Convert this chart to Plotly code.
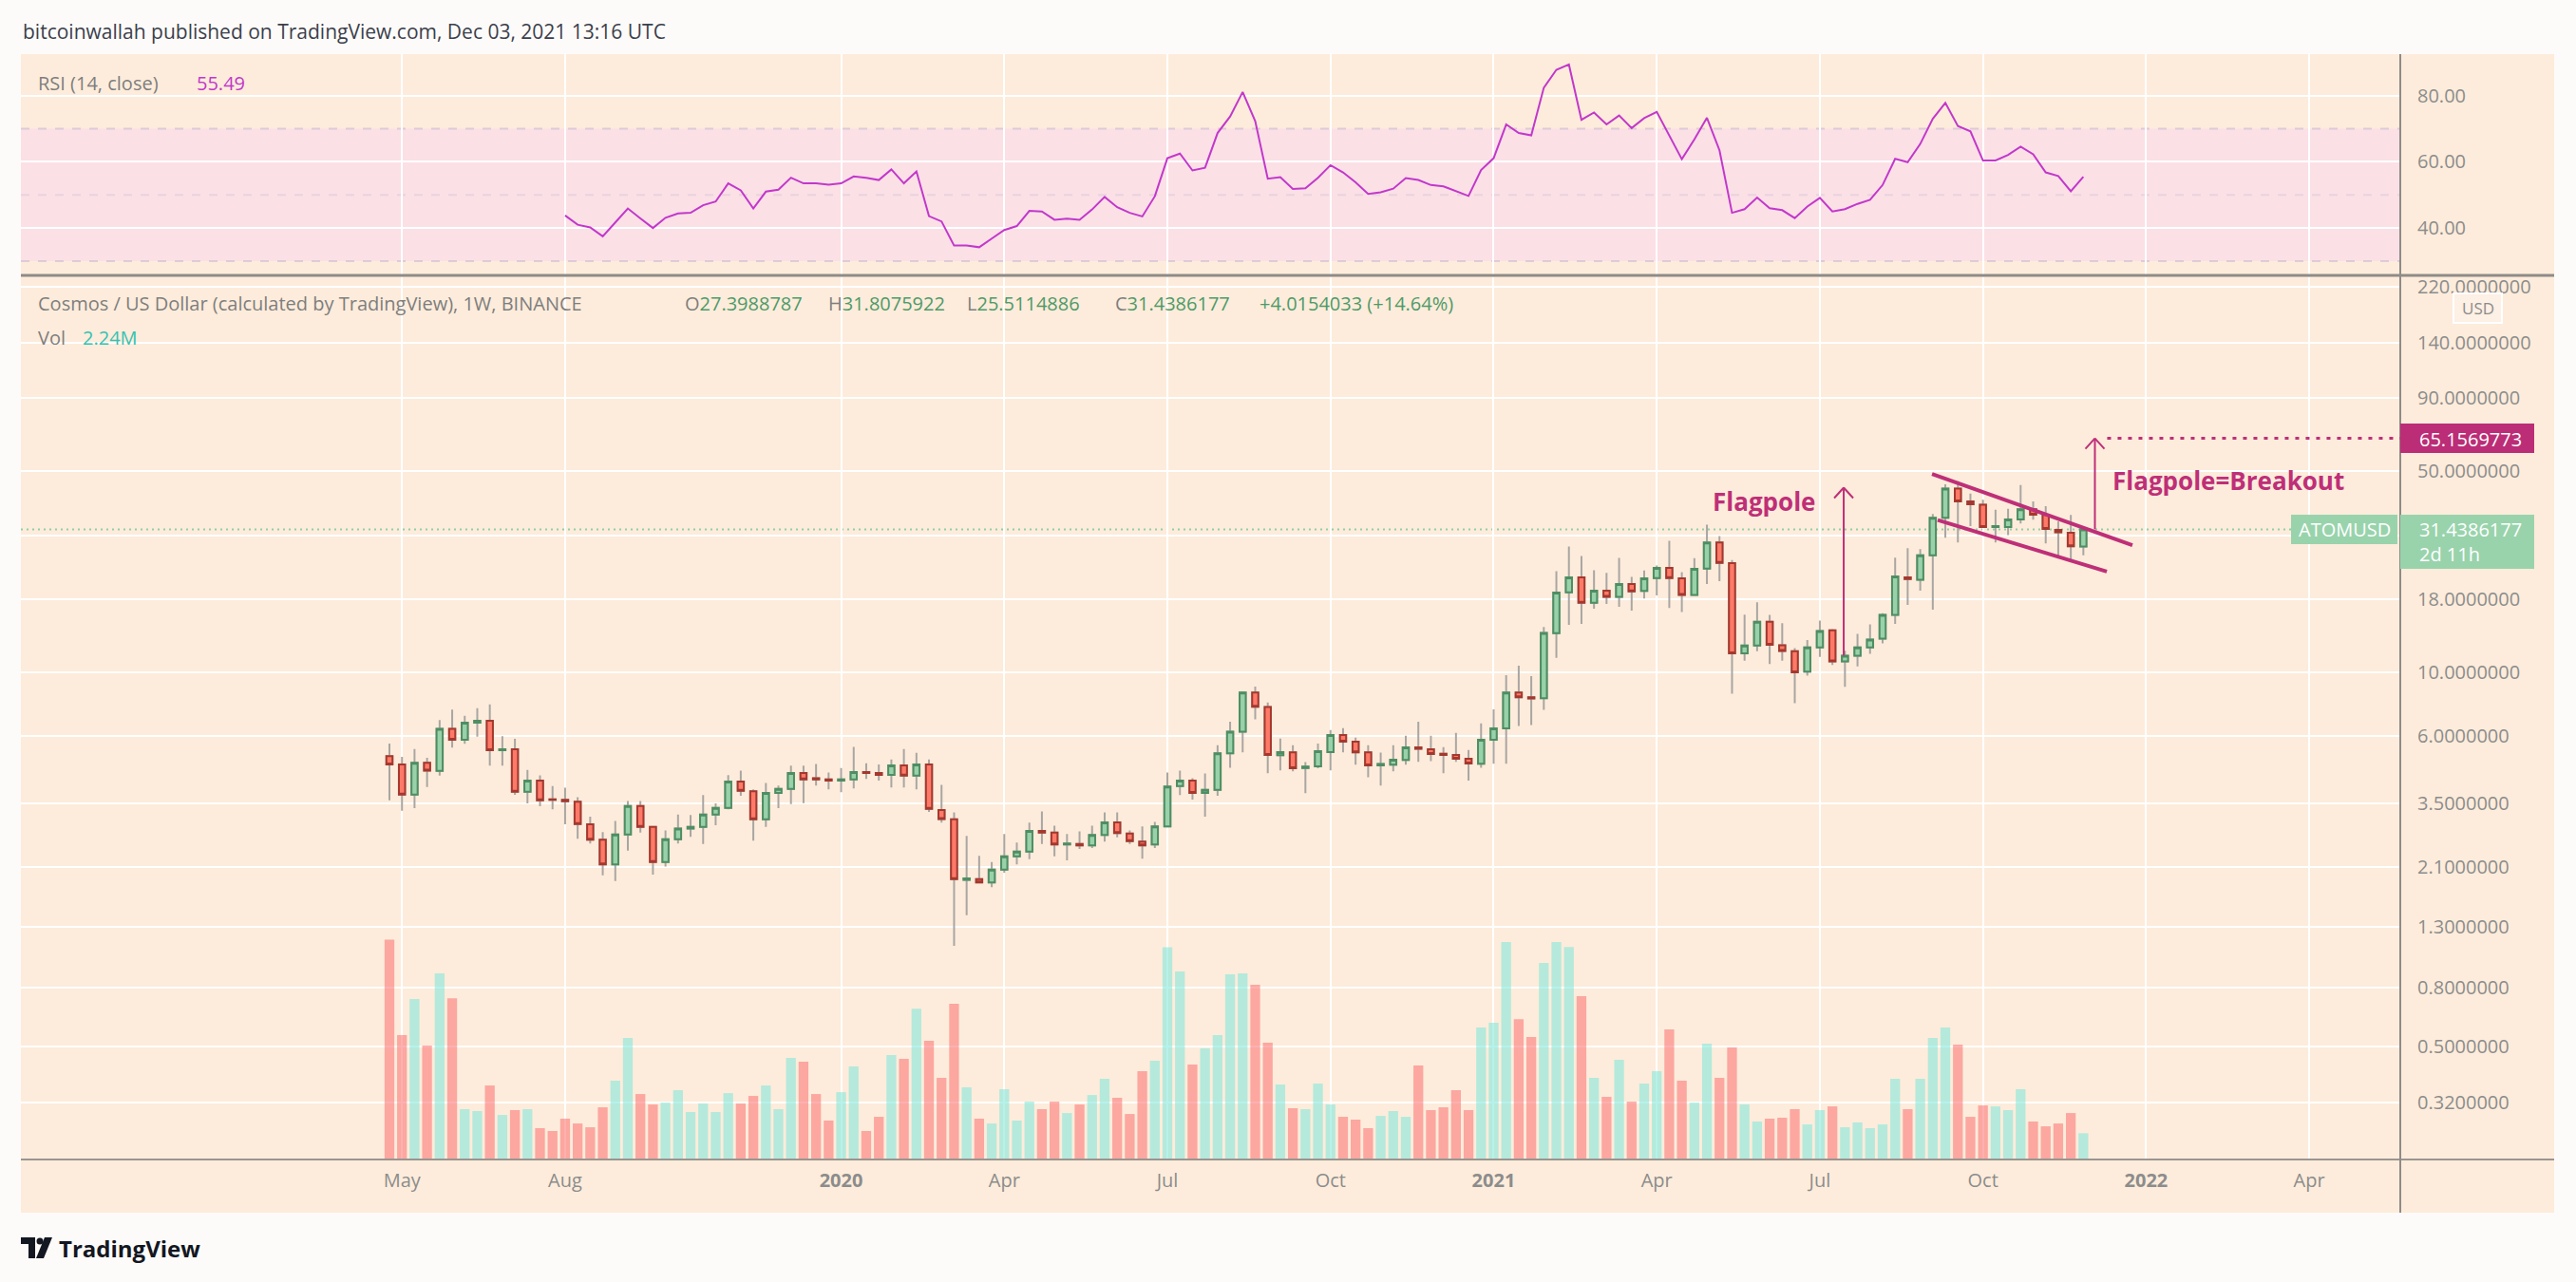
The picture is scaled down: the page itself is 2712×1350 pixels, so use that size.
import math
import pandas as pd
import plotly.graph_objects as go

# ---------------- data (ATOMUSD weekly, Binance) ----------------
bar_dates = pd.date_range("2019-04-29", periods=136, freq="7D")

opens = [5.11, 4.78, 3.76, 4.85, 4.54, 6.36, 5.83, 6.68, 6.78, 5.36,
         5.40, 3.84, 4.20, 3.62, 3.60, 3.55, 2.96, 2.62, 2.15, 2.73,
         3.43, 2.90, 2.19, 2.63, 2.86, 2.90, 3.20, 3.38, 4.17, 3.86,
         3.08, 3.81, 3.93, 4.47, 4.28, 4.24, 4.20, 4.24, 4.50, 4.47,
         4.40, 4.75, 4.37, 4.78, 3.32, 3.08, 1.90, 1.91, 1.86, 2.06,
         2.29, 2.38, 2.81, 2.77, 2.52, 2.53, 2.50, 2.72, 3.01, 2.75,
         2.58, 2.52, 2.91, 4.02, 4.20, 3.81, 3.90, 5.23, 6.22, 8.51,
         7.57, 5.15, 5.27, 4.65, 4.71, 5.28, 6.05, 5.74, 5.27, 4.75,
         4.77, 4.96, 5.48, 5.40, 5.21, 5.16, 5.01, 4.81, 5.83, 6.38,
         8.51, 8.19, 8.13, 13.68, 18.99, 21.39, 17.47, 19.23, 18.29, 20.28,
         19.18, 21.28, 23.07, 21.22, 18.57, 22.96, 28.30, 23.96, 11.64, 12.39,
         14.98, 12.43, 11.84, 10.05, 12.21, 13.99, 10.92, 11.43, 12.21, 13.10,
         15.83, 21.39, 21.01, 25.52, 34.47, 43.59, 39.30, 38.30, 32.03, 32.03,
         34.03, 36.90, 35.30, 31.31, 30.60, 27.3988787]

highs = [5.65, 5.08, 5.41, 5.04, 6.83, 7.42, 7.06, 7.50, 7.73, 6.00,
         5.87, 4.58, 4.38, 4.02, 3.97, 3.68, 3.15, 2.78, 3.04, 3.57,
         3.57, 2.92, 2.82, 3.20, 3.19, 3.74, 3.50, 4.39, 4.55, 3.92,
         4.12, 4.04, 4.74, 4.74, 4.80, 4.48, 4.65, 5.50, 4.83, 4.78,
         4.98, 5.41, 5.25, 4.98, 4.06, 3.26, 2.70, 2.30, 2.19, 2.74,
         2.56, 3.00, 3.28, 2.93, 2.74, 2.80, 2.93, 3.26, 3.26, 2.82,
         2.91, 3.02, 4.48, 4.55, 4.28, 4.45, 5.58, 6.74, 8.59, 8.93,
         7.85, 5.88, 5.58, 4.87, 5.65, 6.30, 6.40, 5.93, 5.58, 5.26,
         5.58, 6.02, 6.74, 6.02, 5.49, 6.16, 5.37, 6.64, 7.44, 9.78,
         10.55, 9.70, 14.39, 22.49, 27.39, 25.39, 22.66, 22.16, 25.01, 21.49,
         22.61, 23.54, 28.66, 22.32, 24.95, 32.60, 29.77, 24.57, 15.87, 17.52,
         15.83, 14.83, 12.15, 12.94, 15.13, 14.13, 11.90, 13.61, 14.68, 16.04,
         25.07, 27.04, 26.84, 35.53, 45.05, 46.20, 41.87, 39.80, 36.80, 37.08,
         44.82, 39.30, 37.84, 33.52, 35.30, 31.8075922]

lows = [3.59, 3.30, 3.37, 3.99, 4.37, 5.47, 5.64, 5.97, 4.74, 4.74,
        3.75, 3.50, 3.42, 3.34, 2.96, 2.64, 2.54, 1.97, 1.88, 2.40,
        2.77, 1.98, 2.11, 2.54, 2.68, 2.53, 2.94, 3.34, 3.72, 2.60,
        2.90, 3.37, 3.48, 3.51, 4.04, 3.92, 3.83, 3.95, 4.26, 4.20,
        3.98, 3.98, 3.92, 3.27, 3.00, 1.12, 1.43, 1.85, 1.79, 2.01,
        2.15, 2.24, 2.53, 2.29, 2.22, 2.43, 2.45, 2.58, 2.67, 2.53,
        2.25, 2.45, 2.89, 3.74, 3.61, 3.15, 3.72, 4.66, 5.27, 6.86,
        4.46, 4.56, 4.53, 3.80, 4.64, 4.56, 5.27, 4.77, 4.32, 4.04,
        4.53, 4.77, 4.88, 4.91, 4.46, 4.88, 4.20, 4.66, 4.81, 4.81,
        6.51, 6.56, 7.40, 11.23, 14.64, 14.75, 16.65, 17.30, 16.91, 16.40,
        18.06, 18.52, 16.74, 16.20, 18.45, 20.28, 20.75, 8.42, 10.98, 11.84,
        10.68, 10.98, 7.81, 9.73, 11.32, 10.60, 8.90, 10.49, 11.61, 12.62,
        14.75, 17.17, 19.23, 16.53, 29.40, 28.30, 32.27, 31.92, 28.30, 30.00,
        32.93, 33.94, 28.09, 25.07, 24.26, 25.5114886]

closes = [4.78, 3.76, 4.85, 4.55, 6.36, 5.83, 6.68, 6.78, 5.36, 5.40,
          3.84, 4.20, 3.59, 3.60, 3.56, 2.97, 2.62, 2.15, 2.73, 3.43,
          2.90, 2.19, 2.63, 2.86, 2.90, 3.20, 3.38, 4.17, 3.87, 3.08,
          3.81, 3.93, 4.47, 4.24, 4.24, 4.20, 4.24, 4.50, 4.47, 4.40,
          4.75, 4.37, 4.78, 3.35, 3.09, 1.91, 1.92, 1.86, 2.06, 2.29,
          2.38, 2.81, 2.77, 2.52, 2.54, 2.50, 2.72, 3.01, 2.76, 2.59,
          2.50, 2.91, 4.01, 4.20, 3.81, 3.90, 5.23, 6.22, 8.51, 7.59,
          5.16, 5.28, 4.64, 4.70, 5.32, 6.05, 5.74, 5.27, 4.75, 4.80,
          4.97, 5.48, 5.42, 5.20, 5.16, 5.01, 4.82, 5.83, 6.38, 8.51,
          8.19, 8.12, 13.71, 18.94, 21.39, 17.47, 19.23, 18.29, 20.28, 19.14,
          21.22, 23.07, 21.28, 18.57, 22.89, 28.30, 24.02, 11.64, 12.39, 14.98,
          12.46, 11.87, 10.00, 12.21, 13.92, 10.92, 11.43, 12.21, 13.00, 15.83,
          21.55, 21.12, 25.52, 34.47, 43.59, 39.30, 38.42, 32.03, 32.27, 34.03,
          36.90, 35.35, 31.55, 30.69, 27.4232144, 31.4386177]

volumes_m = [18.74, 10.60, 13.67, 9.71, 15.86, 13.75, 4.29, 4.13, 6.31, 3.80,
             4.21, 4.29, 2.67, 2.43, 3.48, 3.07, 2.75, 4.45, 6.72, 10.36,
             5.58, 4.69, 4.85, 5.91, 4.05, 4.77, 4.05, 5.66, 4.77, 5.42,
             6.31, 4.29, 8.66, 8.33, 5.58, 3.32, 5.74, 7.93, 2.43, 3.64,
             8.90, 8.58, 12.86, 10.11, 6.96, 13.27, 6.15, 3.48, 3.07, 5.99,
             3.32, 4.94, 4.29, 4.94, 3.96, 4.69, 5.50, 6.88, 5.26, 3.88,
             7.52, 8.41, 18.10, 16.02, 8.09, 9.47, 10.60, 15.78, 15.86, 14.89,
             9.95, 6.39, 4.37, 4.29, 6.47, 4.69, 3.64, 3.40, 2.67, 3.72,
             4.13, 3.64, 8.01, 4.21, 4.45, 5.91, 4.21, 11.25, 11.65, 18.53,
             11.97, 10.44, 16.75, 18.53, 18.12, 13.92, 6.96, 5.34, 8.50, 4.94,
             6.47, 7.52, 11.08, 6.72, 4.85, 9.87, 6.96, 9.55, 4.69, 3.24,
             3.48, 3.56, 4.29, 2.99, 4.21, 4.53, 2.75, 3.16, 2.67, 2.99,
             6.88, 4.29, 6.88, 10.36, 11.25, 9.79, 3.64, 4.61, 4.53, 4.21,
             5.99, 3.24, 2.83, 3.07, 3.96, 2.24]

# RSI(14, close): starts at the 15th weekly bar
rsi_values = [43.8, 41.0, 40.2, 37.5, 41.7, 45.9, 42.9, 40.0, 43.1, 44.4,
              44.6, 46.9, 48.0, 53.5, 51.4, 45.9, 51.0, 51.6, 55.2, 53.5,
              53.5, 53.1, 53.5, 55.6, 55.2, 54.5, 57.7, 53.5, 57.1, 43.6,
              42.0, 34.7, 34.7, 34.2, 36.8, 39.4, 40.6, 45.2, 45.0, 42.5,
              42.8, 42.5, 45.6, 49.4, 46.3, 44.6, 43.5, 49.6, 61.1, 62.5,
              57.4, 58.2, 68.7, 73.7, 81.1, 72.3, 54.9, 55.4, 51.8, 52.0,
              55.2, 59.0, 56.8, 53.8, 50.3, 50.8, 51.9, 55.1, 54.5, 53.0,
              52.6, 51.1, 49.7, 57.5, 61.1, 71.3, 68.7, 68.0, 82.4, 87.8,
              89.4, 72.7, 74.9, 71.3, 74.0, 70.2, 73.2, 75.1, 67.8, 60.8,
              66.8, 73.3, 63.5, 44.6, 45.7, 49.2, 46.0, 45.4, 43.0, 46.5,
              49.1, 45.0, 45.7, 47.3, 48.5, 53.0, 60.9, 59.9, 65.4, 73.0,
              77.8, 70.8, 69.2, 60.4, 60.4, 62.1, 64.6, 62.3, 56.8, 55.7,
              51.1, 55.49]

price_ticks = [220, 140, 90, 50, 30, 18, 10, 6, 3.5, 2.1, 1.3, 0.8, 0.5, 0.32]
price_tick_labels = ["220.0000000", "140.0000000", "90.0000000", "50.0000000", "",
                     "18.0000000", "10.0000000", "6.0000000", "3.5000000", "2.1000000",
                     "1.3000000", "0.8000000", "0.5000000", "0.3200000"]
rsi_ticks = [40, 60, 80]
rsi_tick_labels = ["40.00", "60.00", "80.00"]
month_ticks = ["2019-05-06", "2019-08-05", "2020-01-06", "2020-04-06", "2020-07-06",
               "2020-10-05", "2021-01-04", "2021-04-05", "2021-07-05", "2021-10-04",
               "2022-01-03", "2022-04-04"]
month_labels = ["May", "Aug", "<b>2020</b>", "Apr", "Jul", "Oct", "<b>2021</b>",
                "Apr", "Jul", "Oct", "<b>2022</b>", "Apr"]
target_price = 65.1569773

# ---------------- styling / geometry ----------------
FONT = "Open Sans, Noto Sans, sans-serif"
OUTER_BG = "#FDFBF9"
PANEL_BG = "#FDECDB"
GRID = "#FFFFFF"
AXIS_TEXT = "#8C8C8C"
LEGEND_GRAY = "#7E7E7E"
UP_FILL, UP_LINE = "#99D1AA", "#4E8E62"
DN_FILL, DN_LINE = "#FE7A68", "#A5382E"
WICK = "#A9A6A3"
VOL_UP, VOL_DN = "rgba(122,232,219,0.55)", "rgba(251,112,112,0.55)"
RSI_COLOR = "#C238CB"
MAGENTA = "#BE2F78"
PRICE_GREEN = "#99D3AC"

W, H = 2712, 1350
ML, MR, MT, MB = 22, 185, 57, 129
PW, PH = W - ML - MR, H - MT - MB
PX_PER_DAY = 13.21 / 7.0
PX_PER_LN = 131.5


def px(x):
    return (x - ML) / PW


def py(y):
    return (H - MB - y) / PH


def bar_time(k):
    return (bar_dates[0] + pd.Timedelta(days=7.0 * k)).strftime("%Y-%m-%d %H:%M:%S")


x_start = (bar_dates[0] - pd.Timedelta(days=(410 - ML) / PX_PER_DAY)).strftime("%Y-%m-%d %H:%M:%S")
x_end = (bar_dates[0] + pd.Timedelta(days=(W - MR - 410) / PX_PER_DAY)).strftime("%Y-%m-%d %H:%M:%S")

fig = go.Figure()

vol_colors = [VOL_UP if c >= o else VOL_DN for o, c in zip(opens, closes)]
fig.add_trace(go.Bar(x=bar_dates, y=volumes_m, marker=dict(color=vol_colors, line=dict(width=0)),
                     xaxis="x", yaxis="y2", hoverinfo="skip"))

fig.add_trace(go.Candlestick(
    x=bar_dates, open=opens, high=highs, low=lows, close=closes, xaxis="x", yaxis="y3",
    increasing=dict(line=dict(color=WICK, width=2), fillcolor=WICK),
    decreasing=dict(line=dict(color=WICK, width=2), fillcolor=WICK),
    hoverinfo="skip"))

body_hi = [max(o, c) for o, c in zip(opens, closes)]
body_lo = [min(o, c) for o, c in zip(opens, closes)]
fig.add_trace(go.Candlestick(
    x=bar_dates, open=opens, high=body_hi, low=body_lo, close=closes, xaxis="x", yaxis="y3",
    increasing=dict(line=dict(color=UP_LINE, width=2), fillcolor=UP_FILL),
    decreasing=dict(line=dict(color=DN_LINE, width=2), fillcolor=DN_FILL),
    hoverinfo="skip"))

fig.add_trace(go.Scatter(x=bar_dates[len(bar_dates) - len(rsi_values):], y=rsi_values,
                         mode="lines", line=dict(color=RSI_COLOR, width=2),
                         xaxis="x", yaxis="y", hoverinfo="skip"))

# ---------------- shapes ----------------
shapes = []
shapes.append(dict(type="rect", xref="paper", yref="paper", x0=px(22), x1=px(2689),
                   y0=py(1277), y1=py(57), fillcolor=PANEL_BG, line=dict(width=0), layer="below"))
# RSI band and band lines
shapes.append(dict(type="rect", xref="paper", yref="y", x0=0, x1=1, y0=30, y1=70,
                   fillcolor="rgba(248,196,255,0.30)", line=dict(width=0), layer="between"))
for lvl, col in [(70, "rgba(175,165,200,0.40)"), (50, "rgba(175,165,200,0.22)"), (30, "rgba(175,165,200,0.40)")]:
    shapes.append(dict(type="line", xref="paper", yref="y", x0=0, x1=1, y0=lvl, y1=lvl,
                       line=dict(color=col, width=2, dash="9px,9px"), layer="between"))
# pane separator and axis lines
shapes.append(dict(type="line", xref="paper", yref="paper", x0=0, x1=px(2689), y0=py(290), y1=py(290),
                   line=dict(color="#8F8B88", width=3)))
shapes.append(dict(type="line", xref="paper", yref="paper", x0=0, x1=px(2689), y0=py(1221), y1=py(1221),
                   line=dict(color="#9A9591", width=2)))
shapes.append(dict(type="line", xref="paper", yref="paper", x0=1, x1=1, y0=py(1277), y1=py(57),
                   line=dict(color="#8F8B88", width=2)))
# current price line
shapes.append(dict(type="line", xref="paper", yref="y3", x0=0, x1=px(2412),
                   y0=closes[-1], y1=closes[-1],
                   line=dict(color="#8FCFA5", width=2, dash="2px,4px"), layer="between"))
# bull flag channel
shapes.append(dict(type="line", xref="x", yref="y3", x0=bar_time(122.94), y0=48.97,
                   x1=bar_time(138.91), y1=27.70, line=dict(color=MAGENTA, width=4)))
shapes.append(dict(type="line", xref="x", yref="y3", x0=bar_time(123.39), y0=33.86,
                   x1=bar_time(136.87), y1=22.41, line=dict(color=MAGENTA, width=4)))


def add_arrow(k, y_from, y_to):
    xt = bar_time(k)
    shapes.append(dict(type="line", xref="x", yref="y3", x0=xt, x1=xt, y0=y_from, y1=y_to,
                       line=dict(color=MAGENTA, width=2)))
    wing_y = y_to * math.exp(-11 / PX_PER_LN)
    dk = 10 / PX_PER_DAY / 7.0
    for s in (-1, 1):
        shapes.append(dict(type="line", xref="x", yref="y3", x0=xt, y0=y_to,
                           x1=bar_time(k + s * dk), y1=wing_y,
                           line=dict(color=MAGENTA, width=2)))


add_arrow(115.9, closes[116], 43.9)
add_arrow(135.92, closes[-1], target_price)
shapes.append(dict(type="line", xref="x", yref="y3", x0=bar_time(136.9), x1=x_end,
                   y0=target_price, y1=target_price,
                   line=dict(color=MAGENTA, width=3, dash="4px,7px")))

# axis label boxes
shapes.append(dict(type="rect", xref="paper", yref="paper", x0=px(2527), x1=px(2668),
                   y0=py(477), y1=py(446), fillcolor="#BB2D76", line=dict(width=0)))
shapes.append(dict(type="rect", xref="paper", yref="paper", x0=px(2527), x1=px(2668),
                   y0=py(599), y1=py(542), fillcolor=PRICE_GREEN, line=dict(width=0)))
shapes.append(dict(type="rect", xref="paper", yref="paper", x0=px(2412), x1=px(2524),
                   y0=py(573), y1=py(542), fillcolor=PRICE_GREEN, line=dict(width=0)))
shapes.append(dict(type="rect", xref="paper", yref="paper", x0=px(2583), x1=px(2634),
                   y0=py(340), y1=py(309), fillcolor="#FDF0E4", line=dict(color="#FFFFFF", width=2)))


# TradingView logo
def ppath(points):
    s = "M " + " L ".join(f"{px(a):.5f},{py(b):.5f}" for a, b in points) + " Z"
    return s


shapes.append(dict(type="path", xref="paper", yref="paper",
                   path=ppath([(22, 1303), (37, 1303), (37, 1325), (30, 1325), (30, 1310), (22, 1310)]),
                   fillcolor="#131722", line=dict(width=0)))
shapes.append(dict(type="circle", xref="paper", yref="paper", x0=px(38.5), x1=px(45.5),
                   y0=py(1310.5), y1=py(1303.5), fillcolor="#131722", line=dict(width=0)))
shapes.append(dict(type="path", xref="paper", yref="paper",
                   path=ppath([(47, 1303), (55, 1303), (46, 1325), (38, 1325)]),
                   fillcolor="#131722", line=dict(width=0)))

# ---------------- annotations ----------------
ann = []


def txt(text, x, y, size=20, color=LEGEND_GRAY, xanchor="left", yanchor="middle"):
    ann.append(dict(text=text, x=px(x), y=py(y), xref="paper", yref="paper", showarrow=False,
                    font=dict(size=size, color=color, family=FONT),
                    xanchor=xanchor, yanchor=yanchor))


txt("bitcoinwallah published on TradingView.com, Dec 03, 2021 13:16 UTC", 22, 33, size=21, color="#3B3F4C")
txt("RSI (14, close)", 38, 87)
txt(f"{rsi_values[-1]:.2f}", 205, 87, color=RSI_COLOR)
txt("Cosmos / US Dollar (calculated by TradingView), 1W, BINANCE", 38, 320)
VAL_GREEN = "#4E9A68"
for letter, val, xpos in [("O", opens[-1], 719), ("H", highs[-1], 870), ("L", lows[-1], 1016), ("C", closes[-1], 1172)]:
    txt(f"<span style='color:{LEGEND_GRAY}'>{letter}</span>{val:.7f}", xpos, 320, color=VAL_GREEN)
chg = closes[-1] - closes[-2]
txt(f"+{chg:.7f} (+{chg / closes[-2] * 100:.2f}%)", 1324, 320, color=VAL_GREEN)
txt("Vol", 38, 355)
txt(f"{volumes_m[-1]:.2f}M", 85, 355, color="#35C2B2")

txt("<b>Flagpole</b>", 1857, 528, size=26, color=MAGENTA, xanchor="center")
txt("<b>Flagpole=Breakout</b>", 2346, 506, size=26, color=MAGENTA, xanchor="center")

txt(f"{target_price:.7f}", 2545, 462, color="#FFFFFF")
txt(f"{closes[-1]:.7f}", 2545, 557, color="#FFFFFF")
txt("2d 11h", 2545, 584, color="#FFFFFF")
txt("ATOMUSD", 2468, 557.5, color="#FFFFFF", xanchor="center")
txt("USD", 2608.5, 324.5, size=17, color=AXIS_TEXT, xanchor="center")
txt("<b>TradingView</b>", 60, 1314, size=24, color="#131722")

fig.update_layout(
    width=W, height=H,
    margin=dict(l=ML, r=MR, t=MT, b=MB, autoexpand=False),
    paper_bgcolor=OUTER_BG, plot_bgcolor=PANEL_BG,
    showlegend=False, bargap=0.22, boxmode="overlay",
    font=dict(family=FONT, size=20, color=AXIS_TEXT),
    xaxis=dict(type="date", range=[x_start, x_end], tickvals=month_ticks, ticktext=month_labels,
               showgrid=True, gridcolor=GRID, gridwidth=2, zeroline=False, showline=False,
               ticks="", anchor="y2", rangeslider=dict(visible=False), ticklabelstandoff=8,
               tickfont=dict(size=20, color=AXIS_TEXT, family=FONT)),
    yaxis=dict(domain=[py(289), 1], range=[25.98, 92.54], side="right", tickvals=rsi_ticks,
               ticktext=rsi_tick_labels, showgrid=True, gridcolor=GRID, gridwidth=2,
               zeroline=False, showline=False, ticks="", anchor="x", ticklabelstandoff=17,
               tickfont=dict(size=20, color=AXIS_TEXT, family=FONT)),
    yaxis2=dict(domain=[0, py(292)], range=[0, 75.2], visible=False, anchor="x", showgrid=False),
    yaxis3=dict(type="log", overlaying="y2", side="right", range=[-0.6942, 2.3739],
                tickvals=price_ticks, ticktext=price_tick_labels, showgrid=True, gridcolor=GRID,
                gridwidth=2, zeroline=False, showline=False, ticks="", anchor="x",
                ticklabelstandoff=17, tickfont=dict(size=20, color=AXIS_TEXT, family=FONT)),
    shapes=shapes, annotations=ann,
)

fig.write_html("out.html", config={"displayModeBar": False},
               post_script="document.body.style.margin='0px';")
